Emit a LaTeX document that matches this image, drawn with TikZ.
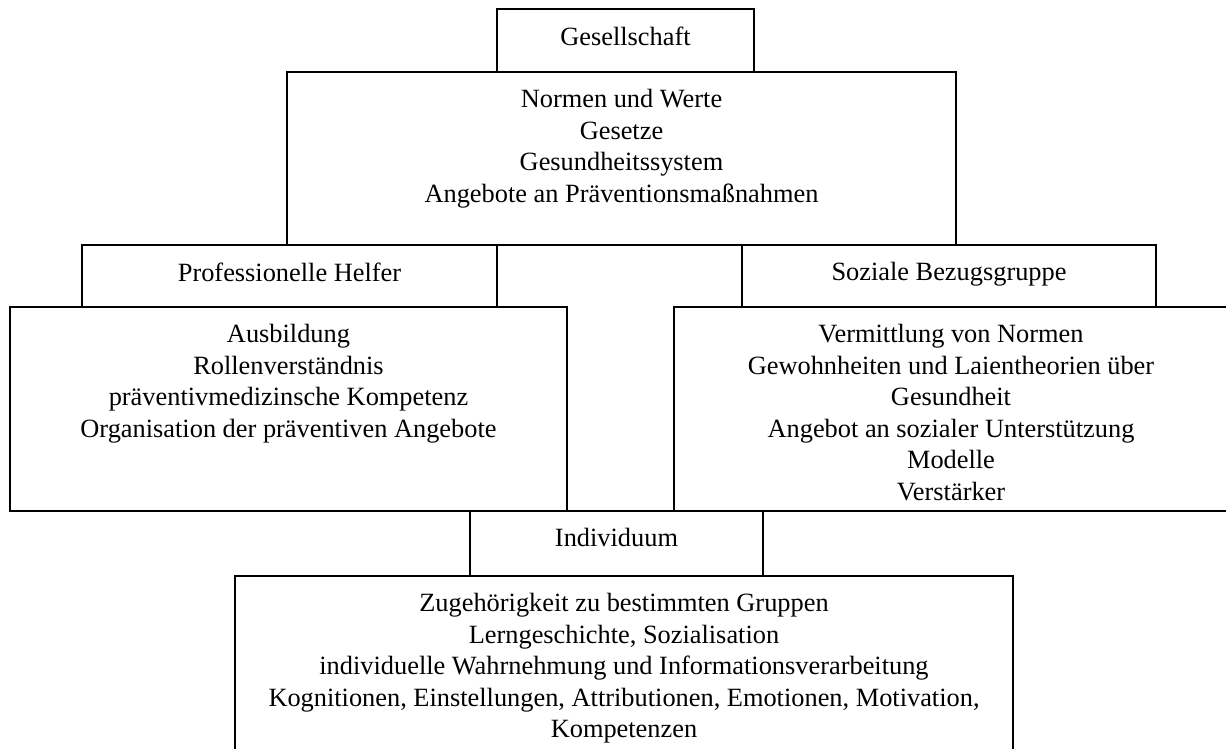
\documentclass[tikz,border=0pt]{standalone}
\usepackage{fontspec}
\setmainfont{Liberation Serif}
\usetikzlibrary{fit,positioning}

\begin{document}
\begin{tikzpicture}[x=0.44pt,y=-0.44pt,
    box/.style={draw, line width=0.8pt, inner sep=0pt},
    txt/.style={align=center, inner sep=0pt, font=\fontsize{11.6}{13.86}\selectfont}]
    \useasboundingbox (0,0) rectangle (1226,749);
    \clip (0,0) rectangle (1226,749);

    % boxes
    \node[box, fit={(497,9) (754,72)}] (ges) {};
    \node[box, fit={(287,72) (956,245)}] (gesInhalt) {};
    \node[box, fit={(82,245) (497,307)}] (helfer) {};
    \node[box, fit={(742,245) (1156,307)}] (gruppe) {};
    \node[box, fit={(10,307) (567,511)}] (helferInhalt) {};
    \node[box, fit={(674,307) (1228,511)}] (gruppeInhalt) {};
    \node[box, fit={(470,511) (763,576)}] (indiv) {};
    \node[box, fit={(235,576) (1013,760)}] (indivInhalt) {};

    % texts
    \node[txt, below=7.9pt of ges.north] (gesText) {Gesellschaft};
    \node[txt, below=7.9pt of gesInhalt.north] (gesInhaltText) {Normen und Werte\\Gesetze\\Gesundheitssystem\\Angebote an Präventionsmaßnahmen};
    \node[txt, below=7.9pt of helfer.north] (helferText) {Professionelle Helfer};
    \node[txt, below=7.9pt of gruppe.north] (gruppeText) {Soziale Bezugsgruppe};
    \node[txt, below=7.9pt of helferInhalt.north] (helferInhaltText) {Ausbildung\\Rollenverständnis\\präventivmedizinsche Kompetenz\\Organisation der präventiven Angebote};
    \node[txt, below=7.9pt of gruppeInhalt.north] (gruppeInhaltText) {Vermittlung von Normen\\Gewohnheiten und Laientheorien über\\Gesundheit\\Angebot an sozialer Unterstützung\\Modelle\\Verstärker};
    \node[txt, below=7.9pt of indiv.north] (indivText) {Individuum};
    \node[txt, below=7.9pt of indivInhalt.north] (indivInhaltText) {Zugehörigkeit zu bestimmten Gruppen\\Lerngeschichte, Sozialisation\\individuelle Wahrnehmung und Informationsverarbeitung\\Kognitionen, Einstellungen, Attributionen, Emotionen, Motivation,\\Kompetenzen};
\end{tikzpicture}
\end{document}
